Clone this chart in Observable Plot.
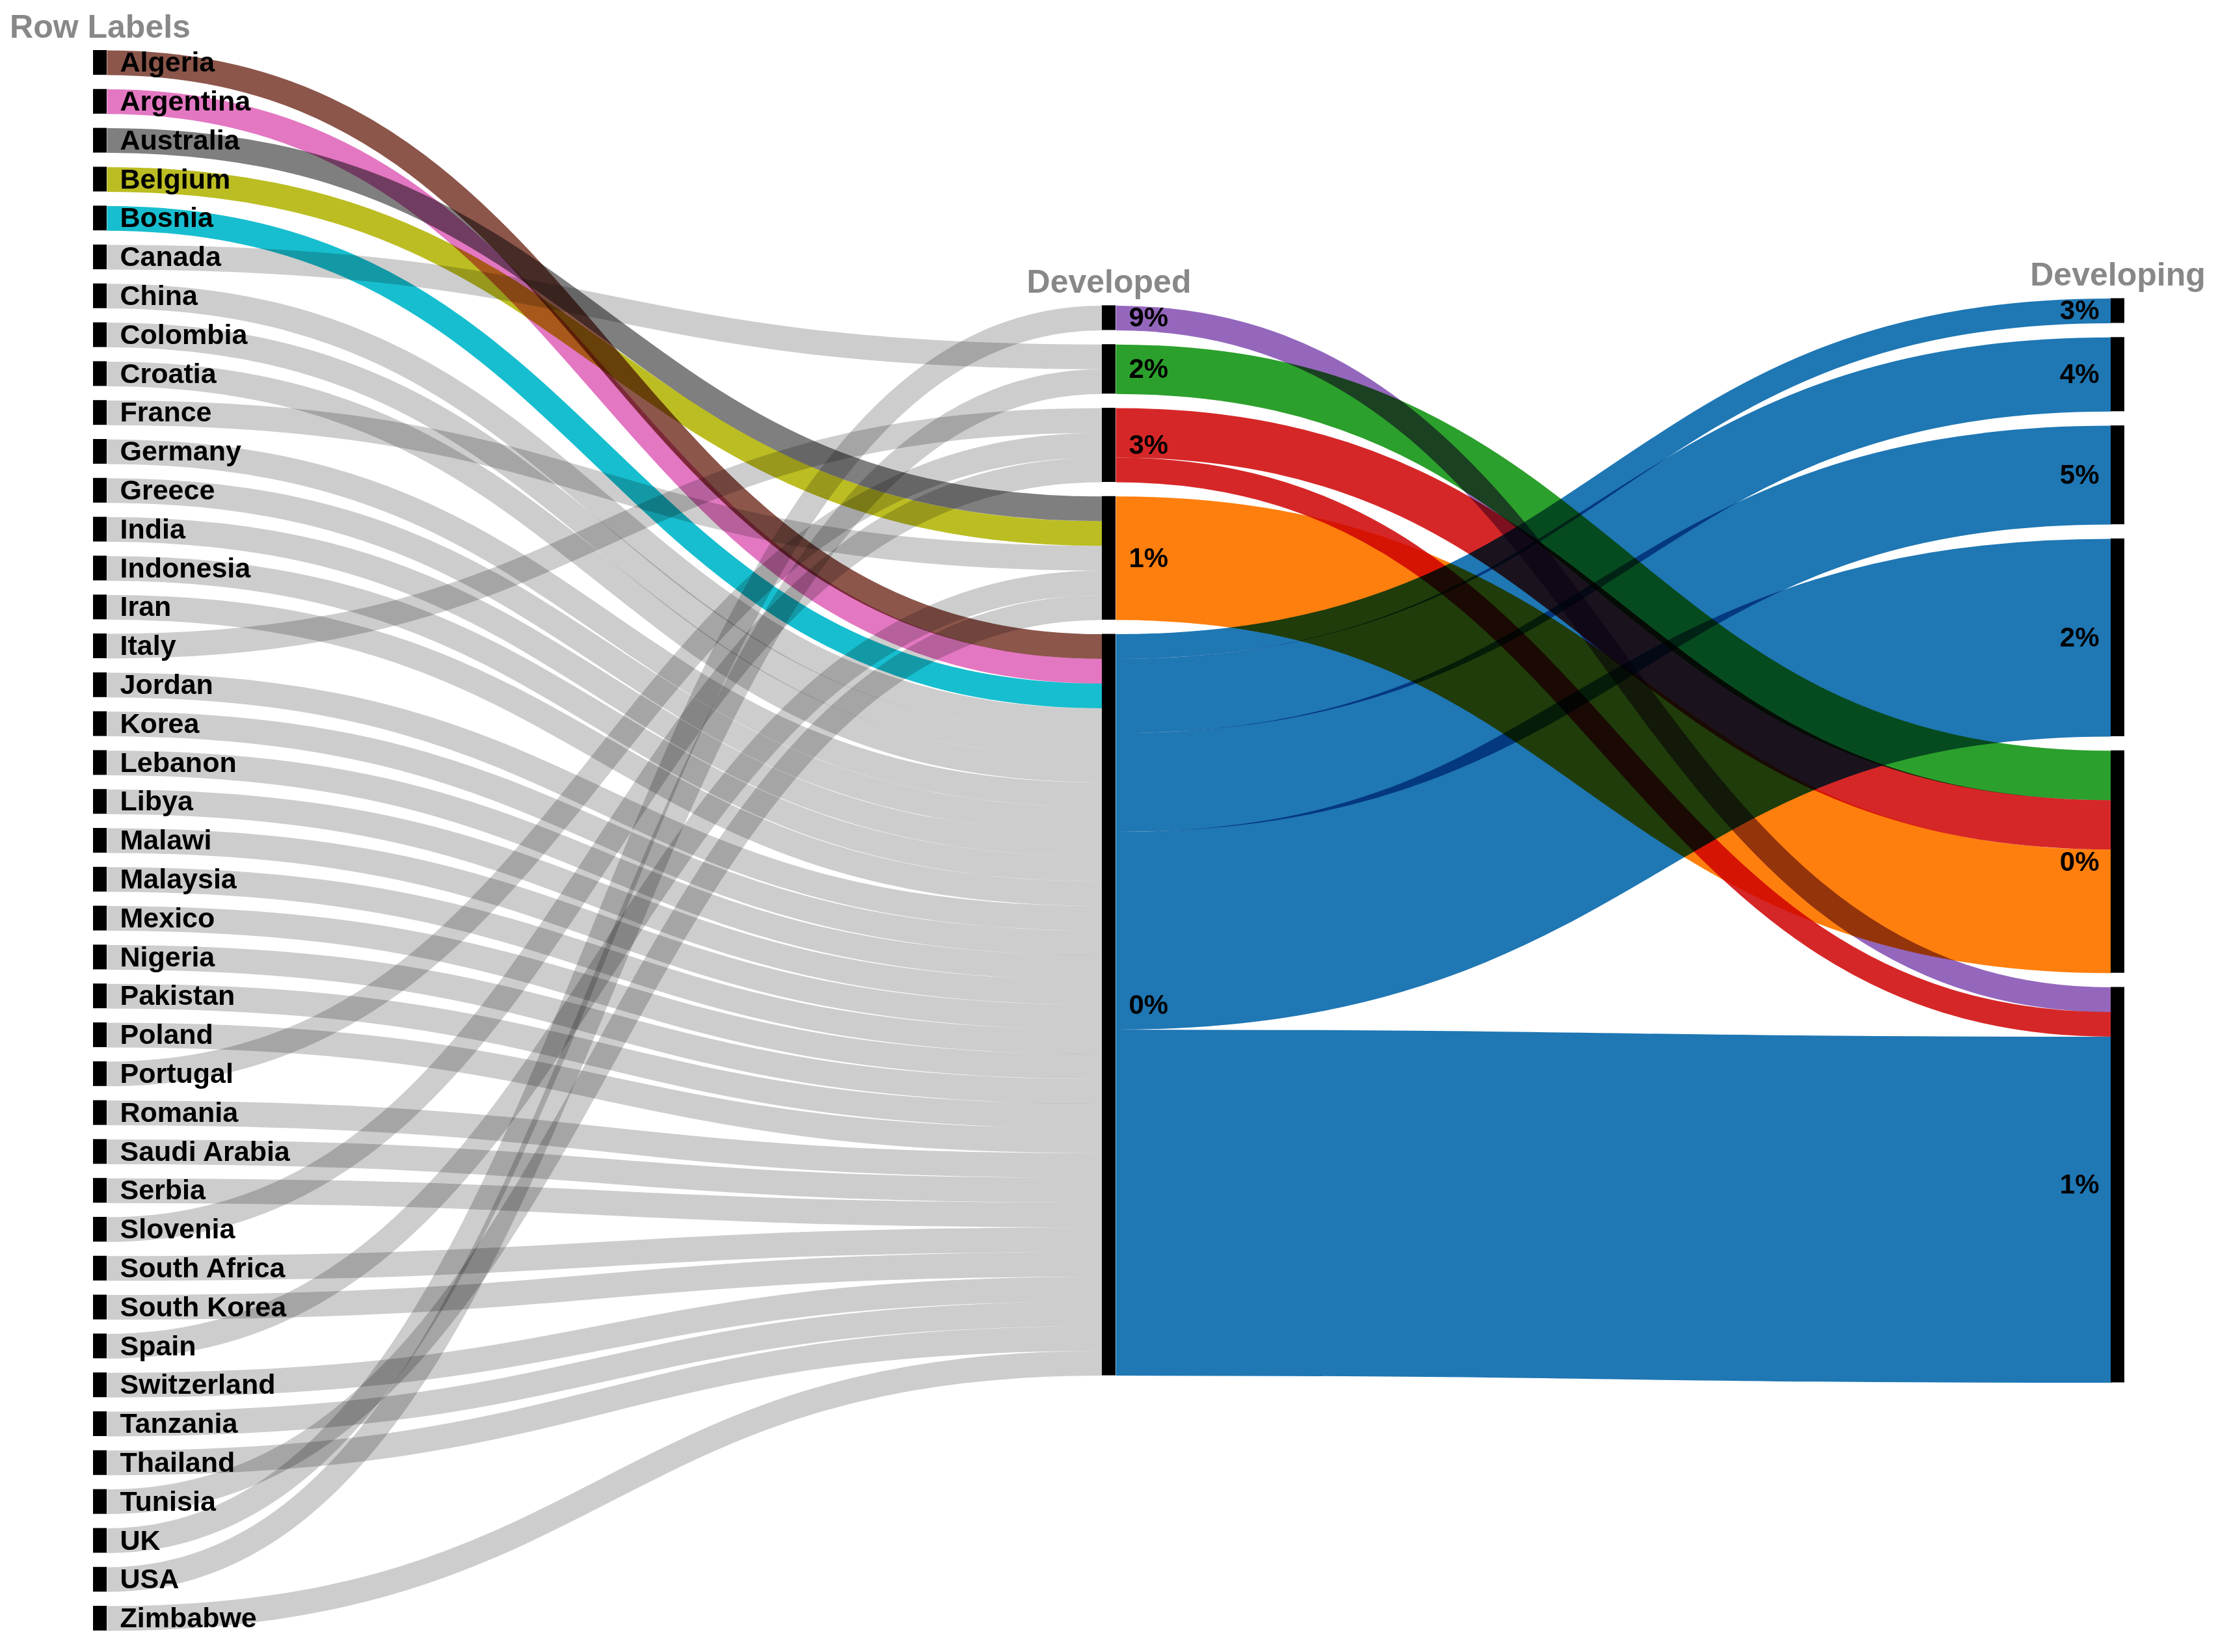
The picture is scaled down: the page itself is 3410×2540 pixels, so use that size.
<!DOCTYPE html>
<html>
<head>
<meta charset="utf-8">
<script src="https://cdn.jsdelivr.net/npm/d3@7"></script>
<script src="https://cdn.jsdelivr.net/npm/@observablehq/plot@0.6"></script>
<style>
  html, body { margin: 0; padding: 0; background: #ffffff; }
  #chart svg { display: block; }
</style>
</head>
<body>
<div id="chart"></div>
<script>
// ---------- DATA ----------
const countries = ["Algeria","Argentina","Australia","Belgium","Bosnia","Canada","China","Colombia","Croatia","France",
  "Germany","Greece","India","Indonesia","Iran","Italy","Jordan","Korea","Lebanon","Libya","Malawi","Malaysia","Mexico",
  "Nigeria","Pakistan","Poland","Portugal","Romania","Saudi Arabia","Serbia","Slovenia","South Africa","South Korea",
  "Spain","Switzerland","Tanzania","Thailand","Tunisia","UK","USA","Zimbabwe"];
const developedRate = ["0%","0%","1%","1%","0%","2%","0%","0%","0%","1%",
  "0%","0%","0%","0%","0%","3%","0%","0%","0%","0%","0%","0%","0%",
  "0%","0%","0%","3%","0%","0%","0%","3%","0%","0%",
  "1%","0%","0%","0%","1%","9%","2%","0%"];
const developedOrder = ["9%","2%","3%","1%","0%"];
const developingOrder = ["3%","4%","5%","2%","0%","1%"];
// Developed -> Developing flows (number of countries)
const flowFrom  = ["9%","2%","3%","3%","1%","0%","0%","0%","0%","0%"];
const flowTo    = ["1%","0%","0%","1%","0%","3%","4%","5%","2%","1%"];
const flowCount = [1, 2, 2, 1, 5, 1, 3, 4, 8, 14];
const highlighted = ["Algeria","Argentina","Australia","Belgium","Bosnia"];
const headers = ["Row Labels","Developed","Developing"];

// ---------- STYLE ----------
const highlightColors = ["#8c564b","#e377c2","#7f7f7f","#bcbd22","#17becf"];
const rateColors = {"0%":"#1f77b4","1%":"#ff7f0e","2%":"#2ca02c","3%":"#d62728","9%":"#9467bd"};
const otherColor = "#cdcdcd";
const K = 38;          // px per country
const PAD = 21.8;      // px between nodes
const NODE_PX = 21;    // node bar width
const X0 = 143, X2 = 3245, TOP = 77;
const FONT = "'Liberation Sans', Arial, Helvetica, sans-serif";

// ---------- LAYOUT (sankey-like, columns centred) ----------
const gap = PAD / K;
const colW = (X2 - X0) / 2;
const NW = NODE_PX / colW;

function stack(names, values, col, H) {
  const total = d3.sum(values) + gap * (names.length - 1);
  let y = (H - total) / 2;
  return names.map((name, i) => {
    const n = {name, col, value: values[i], y0: y, y1: y + values[i]};
    y += values[i] + gap;
    return n;
  });
}
const H = countries.length + gap * (countries.length - 1);
const col0 = stack(countries, countries.map(() => 1), 0, H);
const col1 = stack(developedOrder, developedOrder.map(r => developedRate.filter(v => v === r).length), 1, H);
const col2 = stack(developingOrder, developingOrder.map(r => d3.sum(flowTo.map((t, i) => t === r ? flowCount[i] : 0))), 2, H);
const byName1 = new Map(col1.map(n => [n.name, n]));

// stage 1 links: country -> developed (incoming stacked in country order)
const fill1 = new Map(col1.map(n => [n.name, n.y0]));
const links1 = col0.map((c, i) => {
  const t = byName1.get(developedRate[i]);
  const yT = fill1.get(t.name);
  fill1.set(t.name, yT + 1);
  const h = highlighted.indexOf(c.name);
  return {x1: NW, x2: 1, y1: c.y0 + 0.5, y2: yT + 0.5, w: 1, color: h >= 0 ? highlightColors[h] : otherColor};
});

// stage 2 links: developed -> developing
const flows = flowCount.map((v, i) => ({from: flowFrom[i], to: flowTo[i], value: v}));
const outY = new Map(col1.map(n => [n.name, n.y0]));
const inY = new Map(col2.map(n => [n.name, n.y0]));
const yStart = new Map();
developedOrder.forEach(s => {
  flows.filter(f => f.from === s)
    .sort((a, b) => developingOrder.indexOf(a.to) - developingOrder.indexOf(b.to))
    .forEach(f => { yStart.set(f, outY.get(s) + f.value / 2); outY.set(s, outY.get(s) + f.value); });
});
const yEnd = new Map();
developingOrder.forEach(t => {
  flows.filter(f => f.to === t)
    .sort((a, b) => developedOrder.indexOf(a.from) - developedOrder.indexOf(b.from))
    .forEach(f => { yEnd.set(f, inY.get(t) + f.value / 2); inY.set(t, inY.get(t) + f.value); });
});
const links2 = flows.map(f => ({x1: 1 + NW, x2: 2, y1: yStart.get(f), y2: yEnd.get(f), w: f.value, color: rateColors[f.from]}));

const nodes = [...col0, ...col1, ...col2];
const colTops = [col0[0].y0, col1[0].y0, col2[0].y0];

// ---------- PLOT ----------
const chart = Plot.plot({
  width: 3410,
  height: 2540,
  margin: 0,
  x: {domain: [0, 2], range: [X0, X2], axis: null},
  y: {domain: [0, H], range: [TOP, TOP + H * K], axis: null},
  color: {type: "identity"},
  style: {background: "#ffffff", fontFamily: FONT},
  marks: [
    Plot.link(links1, {x1: "x1", x2: "x2", y1: "y1", y2: "y2", curve: "bump-x",
      stroke: "color", strokeWidth: d => d.w * K, mixBlendMode: "multiply"}),
    Plot.link(links2, {x1: "x1", x2: "x2", y1: "y1", y2: "y2", curve: "bump-x",
      stroke: "color", strokeWidth: d => d.w * K, mixBlendMode: "multiply"}),
    Plot.rect(nodes, {x1: d => d.col, x2: d => d.col + NW, y1: "y0", y2: "y1", fill: "#000000"}),
    Plot.text(col0, {x: NW, y: d => (d.y0 + d.y1) / 2, text: "name", textAnchor: "start", dx: 20,
      fontSize: 43, fontWeight: "bold", fill: "#000000"}),
    Plot.text(col1, {x: 1 + NW, y: d => (d.y0 + d.y1) / 2, text: "name", textAnchor: "start", dx: 20,
      fontSize: 42, fontWeight: "bold", fill: "#000000"}),
    Plot.text(col2, {x: 2, y: d => (d.y0 + d.y1) / 2, text: "name", textAnchor: "end", dx: -18,
      fontSize: 42, fontWeight: "bold", fill: "#000000"}),
    Plot.text(headers, {x: (d, i) => i + NW / 2, y: (d, i) => colTops[i], text: d => d, dy: -36,
      textAnchor: "middle", fontSize: 50, fontWeight: "bold", fill: "#888888"})
  ]
});
document.getElementById("chart").appendChild(chart);
</script>
</body>
</html>
